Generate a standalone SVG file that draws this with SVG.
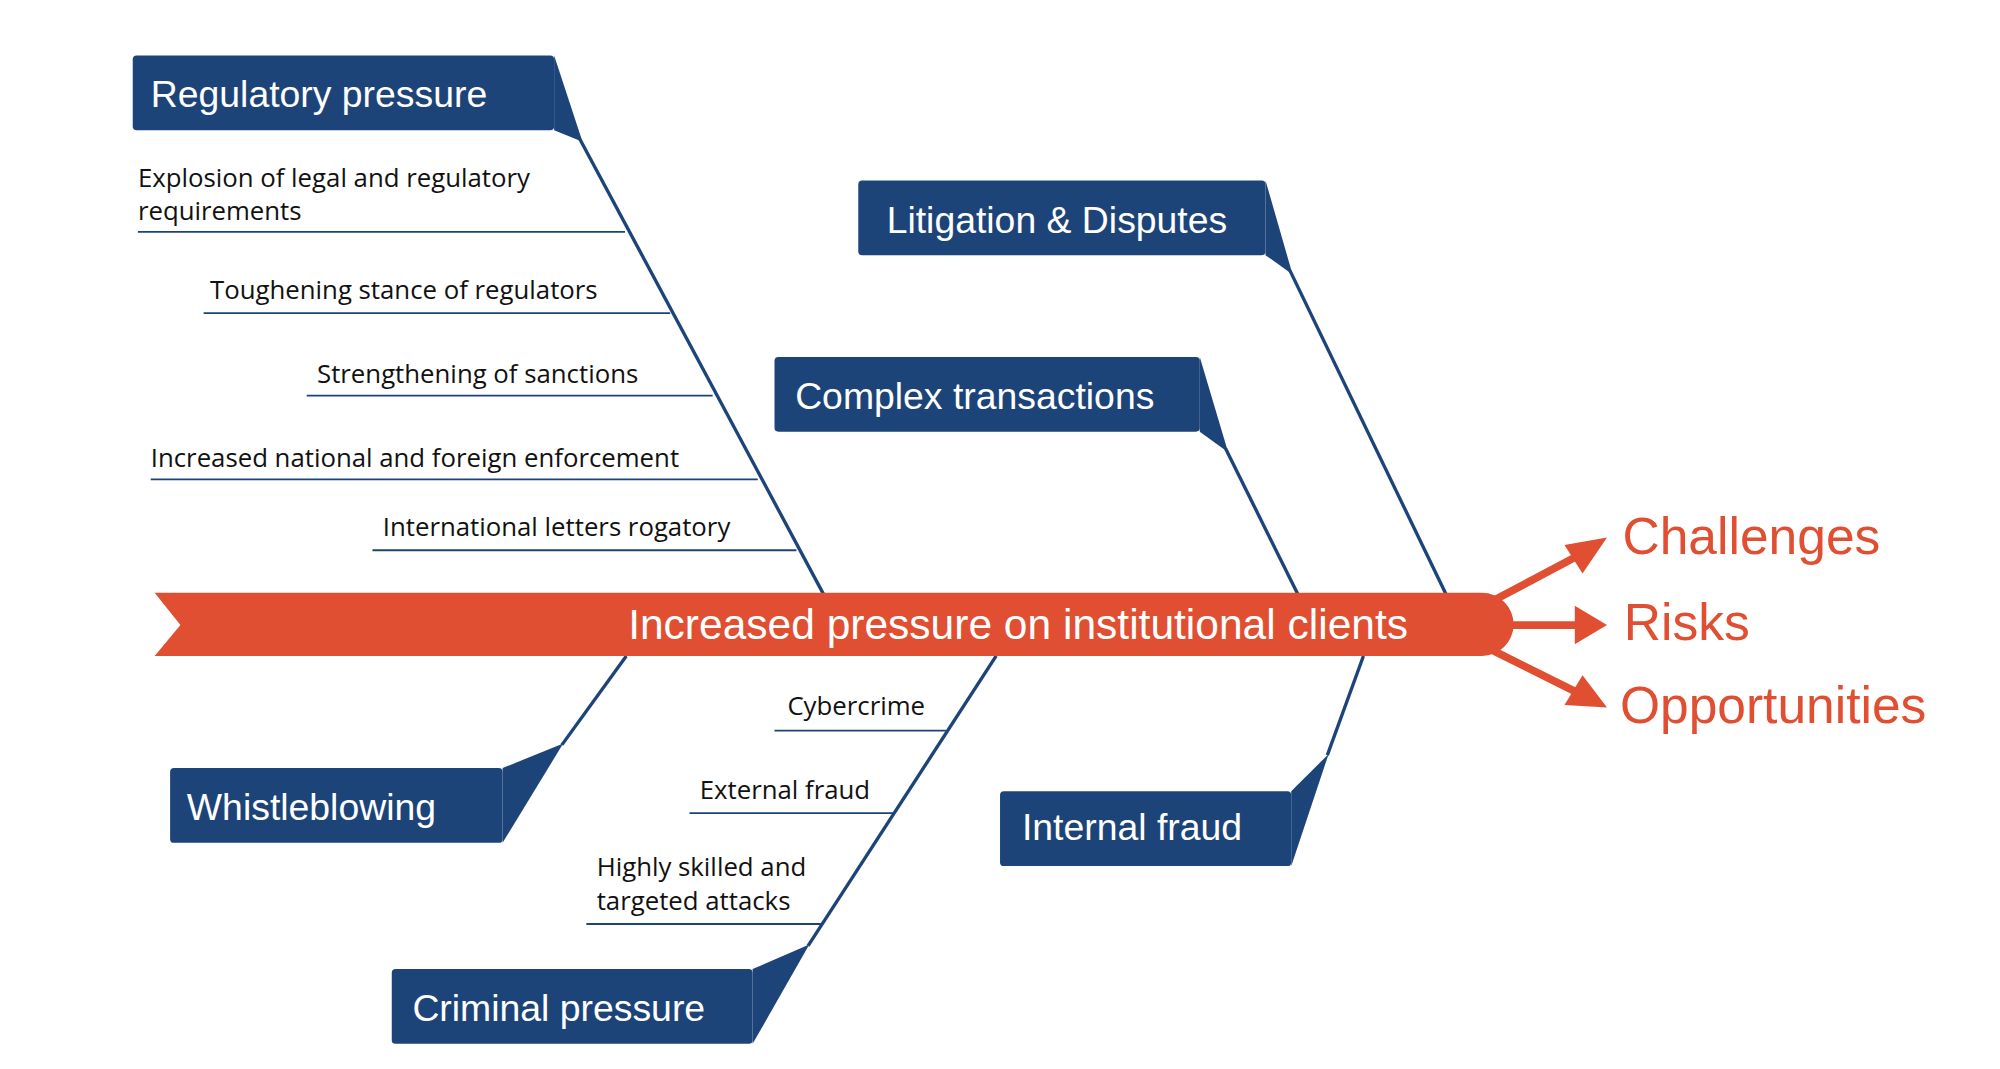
<svg xmlns="http://www.w3.org/2000/svg" width="2000" height="1069" viewBox="0 0 2000 1069">
<style>
.box{fill:#1d4479}
.tab{fill:#1d4479}
.bt{font-family:"Liberation Sans",Arial,sans-serif;font-size:29px;fill:#fff}
.st{font-family:"Open Sans","Liberation Sans",sans-serif;font-size:20px;fill:#111}
.ln{stroke:#1d4479;stroke-width:2.6;fill:none}
.sl{stroke:#1d4479;stroke-width:1.4;fill:none}
.ot{font-family:"Liberation Sans",Arial,sans-serif;font-size:40px;fill:#e04f32}
</style>
<rect width="2000" height="1069" fill="#fff"/>
<g transform="scale(1.2887)">
<g id="connectors">
<line class="ln" x1="450" y1="108" x2="639" y2="461"/>
<line class="ln" x1="1001" y1="210" x2="1122" y2="461"/>
<line class="ln" x1="951" y1="348" x2="1007" y2="461"/>
<line class="ln" x1="436" y1="578" x2="486" y2="509"/>
<line class="ln" x1="627" y1="734" x2="773" y2="509"/>
<line class="ln" x1="1030" y1="586" x2="1058" y2="509"/>
<line class="sl" x1="107" y1="180" x2="485" y2="180"/>
<line class="sl" x1="158" y1="243" x2="520" y2="243"/>
<line class="sl" x1="238" y1="307" x2="553" y2="307"/>
<line class="sl" x1="117" y1="372" x2="588" y2="372"/>
<line class="sl" x1="289" y1="427" x2="618" y2="427"/>
<line class="sl" x1="601" y1="567" x2="734" y2="567"/>
<line class="sl" x1="535" y1="631" x2="693" y2="631"/>
<line class="sl" x1="455" y1="717" x2="637" y2="717"/>
<g fill="#e04f32" stroke="none">
<line x1="1155" y1="468" x2="1225" y2="431" stroke="#e04f32" stroke-width="6"/>
<polygon points="1247,417 1228,445 1214,423"/>
<line x1="1170" y1="485" x2="1225" y2="485" stroke="#e04f32" stroke-width="6"/>
<polygon points="1247,485 1222,470 1222,500"/>
<line x1="1155" y1="503" x2="1225" y2="538" stroke="#e04f32" stroke-width="6"/>
<polygon points="1247,549 1214,547 1228,524"/>
</g>
</g>
<g id="spine">
<path d="M120,460 H1150 A24,24 0 0 1 1150,509 H120 L140,485 Z" fill="#e04f32"/>
<text x="790" y="496" text-anchor="middle" font-family="Liberation Sans,Arial,sans-serif" font-size="33" fill="#fff">Increased pressure on institutional clients</text>
</g>
<g id="regulatory">
<rect class="box" x="103" y="43" width="327" height="58" rx="3"/>
<polygon class="tab" points="430,43 452,110 430,101"/>
<text class="bt" x="117" y="83">Regulatory pressure</text>
</g>
<g id="litigation">
<rect class="box" x="666" y="140" width="316" height="58" rx="3"/>
<polygon class="tab" points="982,140 1003,213 982,198"/>
<text class="bt" x="688" y="181">Litigation &amp; Disputes</text>
</g>
<g id="complex">
<rect class="box" x="601" y="277" width="330" height="58" rx="3"/>
<polygon class="tab" points="931,277 953,351 931,335"/>
<text class="bt" x="617" y="317">Complex transactions</text>
</g>
<g id="whistleblowing">
<rect class="box" x="132" y="596" width="258" height="58" rx="3"/>
<polygon class="tab" points="390,596 437,577 390,654"/>
<text class="bt" x="145" y="636">Whistleblowing</text>
</g>
<g id="criminal">
<rect class="box" x="304" y="752" width="280" height="58" rx="3"/>
<polygon class="tab" points="584,752 628,733 584,810"/>
<text class="bt" x="320" y="792">Criminal pressure</text>
</g>
<g id="internal">
<rect class="box" x="776" y="614" width="226" height="58" rx="3"/>
<polygon class="tab" points="1002,614 1031,585 1002,672"/>
<text class="bt" x="793" y="652">Internal fraud</text>
</g>
<g id="subcauses">
<text class="st" x="107" y="145">Explosion of legal and regulatory</text>
<text class="st" x="107" y="171">requirements</text>
<text class="st" x="163" y="232">Toughening stance of regulators</text>
<text class="st" x="246" y="297">Strengthening of sanctions</text>
<text class="st" x="117" y="362">Increased national and foreign enforcement</text>
<text class="st" x="297" y="416">International letters rogatory</text>
<text class="st" x="611" y="555">Cybercrime</text>
<text class="st" x="543" y="620">External fraud</text>
<text class="st" x="463" y="680">Highly  skilled and</text>
<text class="st" x="463" y="706">targeted attacks</text>
</g>
<g id="outcomes">
<text class="ot" x="1259" y="430">Challenges</text>
<text class="ot" x="1260" y="497">Risks</text>
<text class="ot" x="1257" y="561">Opportunities</text>
</g>
</g>
</svg>
